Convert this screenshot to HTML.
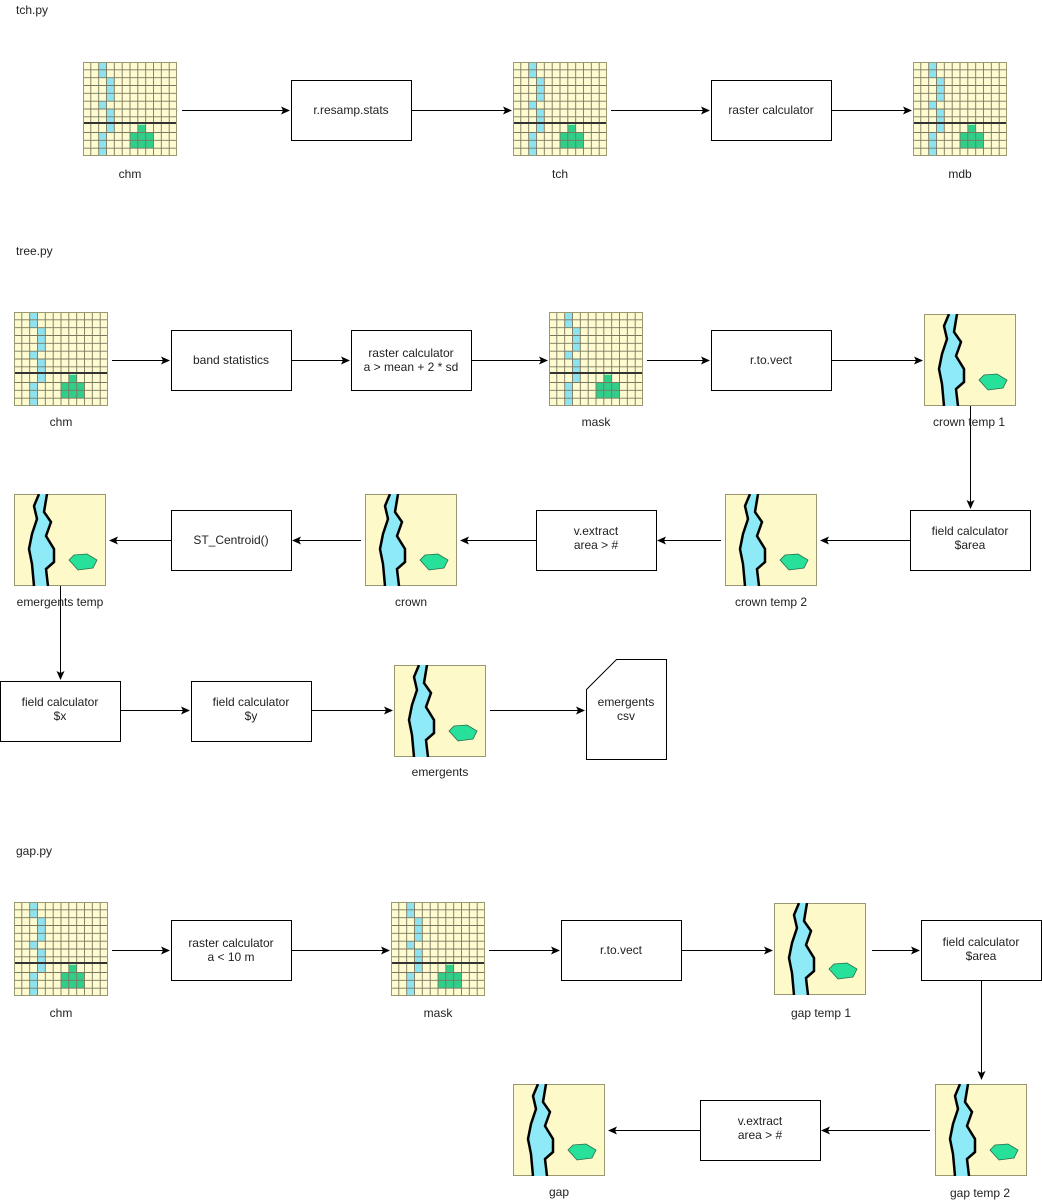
<!DOCTYPE html>
<html><head><meta charset="utf-8"><style>
body{margin:0;background:#fff;width:1042px;height:1202px;overflow:hidden}
svg{display:block}
text{font-family:"Liberation Sans",sans-serif;font-size:12px;fill:#222}
</style></head><body>
<svg width="1042" height="1202" viewBox="0 0 1042 1202" xmlns="http://www.w3.org/2000/svg">
<defs>
<marker id="ah" markerWidth="10" markerHeight="10" refX="8" refY="4" orient="auto" markerUnits="userSpaceOnUse">
<path d="M0,0 L9,4 L0,8 L2,4 Z" fill="#000"/>
</marker>
<symbol id="ras" viewBox="0 0 94 94" width="94" height="94">
<rect x="0" y="0" width="94" height="94" fill="#fdfbcf"/>
<g fill="#8fe3f0">
<rect x="15.7" y="0" width="7.8" height="15.7"/>
<rect x="23.5" y="15.7" width="7.8" height="23.5"/>
<rect x="15.7" y="39.2" width="7.8" height="7.8"/>
<rect x="23.5" y="47" width="7.8" height="23.5"/>
<rect x="15.7" y="70.5" width="7.8" height="23.5"/>
</g>
<g fill="#2fcf8a">
<rect x="54.8" y="62.7" width="7.8" height="7.8"/>
<rect x="47" y="70.5" width="23.5" height="15.7"/>
</g>
<g stroke="#7a7960" stroke-width="0.9" fill="none">
<path d="M7.8,0V94M15.7,0V94M23.5,0V94M31.3,0V94M39.2,0V94M47,0V94M54.8,0V94M62.7,0V94M70.5,0V94M78.3,0V94M86.2,0V94"/>
<path d="M0,7.8H94M0,15.7H94M0,23.5H94M0,31.3H94M0,39.2H94M0,47H94M0,54.8H94M0,70.5H94M0,78.3H94M0,86.2H94"/>
</g>
<path d="M0,61H94" stroke="#333" stroke-width="2"/>
<rect x="0.5" y="0.5" width="93" height="93" fill="none" stroke="#9a9870"/>
</symbol>
<symbol id="vec" viewBox="0 0 92 92" width="92" height="92">
<rect x="0.5" y="0.5" width="91" height="91" fill="#fdf9c9" stroke="#9a9870"/>
<path d="M25,0 L20,12 L23,25 L18,40 L15,55 L18,70 L20,92 L34,92 L32,75 L40,68 L40,55 L32,42 L37,28 L30,18 L33,0 Z" fill="#8feaf7"/>
<path d="M25,0 L20,12 L23,25 L18,40 L15,55 L18,70 L20,92" fill="none" stroke="#000" stroke-width="2.5"/>
<path d="M33,0 L30,18 L37,28 L32,42 L40,55 L40,68 L32,75 L34,92" fill="none" stroke="#000" stroke-width="2.5"/>
<path d="M55,66 L60,61 L73,60 L83,66 L79,74 L64,76 Z" fill="#27e19a" stroke="#2a6a4a" stroke-width="0.8"/>
</symbol>
</defs>

<text x="16" y="14">tch.py</text>
<text x="16" y="255">tree.py</text>
<text x="16" y="855">gap.py</text>

<g stroke="#000" stroke-width="1" fill="#fff">
<rect x="291.5" y="80.5" width="120" height="60"/>
<rect x="711.5" y="80.5" width="120" height="60"/>
<rect x="171.5" y="330.5" width="120" height="60"/>
<rect x="351.5" y="330.5" width="120" height="60"/>
<rect x="711.5" y="330.5" width="120" height="60"/>
<rect x="910.5" y="510.5" width="120" height="60"/>
<rect x="536.5" y="510.5" width="120" height="60"/>
<rect x="171.5" y="510.5" width="120" height="60"/>
<rect x="0.5" y="681.5" width="120" height="60"/>
<rect x="191.5" y="681.5" width="120" height="60"/>
<path d="M586.5,689.5 L616.5,659.5 H666.5 V759.5 H586.5 Z"/>
<rect x="171.5" y="920.5" width="120" height="60"/>
<rect x="561.5" y="920.5" width="120" height="60"/>
<rect x="921.5" y="920.5" width="120" height="60"/>
<rect x="700.5" y="1100.5" width="120" height="60"/>
</g>

<use href="#ras" x="83" y="62"/>
<use href="#ras" x="513" y="62"/>
<use href="#ras" x="913" y="62"/>
<use href="#ras" x="14" y="312"/>
<use href="#ras" x="549" y="312"/>
<use href="#vec" x="924" y="314"/>
<use href="#vec" x="725" y="494"/>
<use href="#vec" x="365" y="494"/>
<use href="#vec" x="14" y="494"/>
<use href="#vec" x="394" y="665"/>
<use href="#ras" x="14" y="902"/>
<use href="#ras" x="391" y="902"/>
<use href="#vec" x="774" y="903"/>
<use href="#vec" x="935" y="1084"/>
<use href="#vec" x="513" y="1084"/>

<g stroke="#000" stroke-width="1" fill="none" marker-end="url(#ah)">
<path d="M182,110.5 H289"/>
<path d="M411,110.5 H511"/>
<path d="M611,110.5 H709"/>
<path d="M831,110.5 H911"/>
<path d="M112,360.5 H169"/>
<path d="M291,360.5 H349"/>
<path d="M471,360.5 H547"/>
<path d="M647,360.5 H709"/>
<path d="M831,360.5 H922"/>
<path d="M970.5,406 V508"/>
<path d="M910,540.5 H821"/>
<path d="M721,540.5 H658"/>
<path d="M536,540.5 H461"/>
<path d="M361,540.5 H293"/>
<path d="M171,540.5 H110"/>
<path d="M60.5,586 V679"/>
<path d="M120,710.5 H189"/>
<path d="M311,710.5 H392"/>
<path d="M490,710.5 H584"/>
<path d="M112,950.5 H169"/>
<path d="M291,950.5 H389"/>
<path d="M489,950.5 H559"/>
<path d="M681,950.5 H772"/>
<path d="M872,950.5 H919"/>
<path d="M981.5,980 V1079"/>
<path d="M930,1130.5 H822"/>
<path d="M700,1130.5 H609"/>
</g>

<g text-anchor="middle">
<text x="351" y="114">r.resamp.stats</text>
<text x="771" y="114">raster calculator</text>
<text x="130" y="178">chm</text>
<text x="560" y="178">tch</text>
<text x="960" y="178">mdb</text>
<text x="231" y="364">band statistics</text>
<text x="411" y="357">raster calculator</text>
<text x="411" y="371">a &gt; mean + 2 * sd</text>
<text x="771" y="364">r.to.vect</text>
<text x="61" y="426">chm</text>
<text x="596" y="426">mask</text>
<text x="969" y="426">crown temp 1</text>
<text x="970" y="535">field calculator</text>
<text x="970" y="549">$area</text>
<text x="596" y="535">v.extract</text>
<text x="596" y="549">area &gt; #</text>
<text x="231" y="544">ST_Centroid()</text>
<text x="771" y="606">crown temp 2</text>
<text x="411" y="606">crown</text>
<text x="60" y="606">emergents temp</text>
<text x="60" y="706">field calculator</text>
<text x="60" y="720">$x</text>
<text x="251" y="706">field calculator</text>
<text x="251" y="720">$y</text>
<text x="626" y="706">emergents</text>
<text x="626" y="720">csv</text>
<text x="440" y="776">emergents</text>
<text x="231" y="947">raster calculator</text>
<text x="231" y="961">a &lt; 10 m</text>
<text x="621" y="954">r.to.vect</text>
<text x="981" y="946">field calculator</text>
<text x="981" y="960">$area</text>
<text x="61" y="1017">chm</text>
<text x="438" y="1017">mask</text>
<text x="821" y="1017">gap temp 1</text>
<text x="760" y="1125">v.extract</text>
<text x="760" y="1139">area &gt; #</text>
<text x="980" y="1197">gap temp 2</text>
<text x="559" y="1196">gap</text>
</g>
</svg>
</body></html>
